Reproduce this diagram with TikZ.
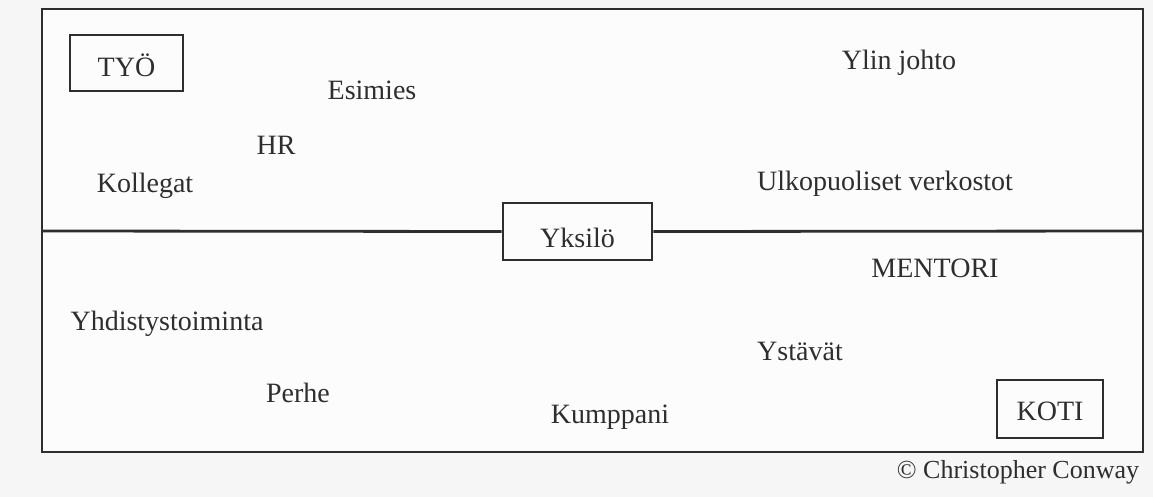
\documentclass[tikz,border=0pt]{standalone}
\usepackage{fontspec}
\setmainfont{Liberation Serif}
\definecolor{ink}{HTML}{2E2E2E}
\definecolor{paper}{HTML}{F6F6F6}
\begin{document}
\begin{tikzpicture}[x=1pt,y=-1pt,
  lbl/.style={anchor=base,text=ink,font=\fontsize{28}{32}\selectfont,inner sep=0pt},
  boxed/.style={draw=ink,line width=2.6pt,text=ink,font=\fontsize{28}{32}\selectfont,inner sep=0pt,text depth=0pt},
  frame/.style={draw=ink,line width=2.8pt}]
\useasboundingbox (0,0) rectangle (1153,497);
\fill[paper] (0,0) rectangle (1153,497);
\fill[white!70!paper] (42,9) rectangle (1143,452);
% outer frame
\draw[frame] (42,9) rectangle (1143,452);
\coordinate (L) at (42,231);
\coordinate (R) at (1143,231);
% central box
\node[boxed,minimum width=149pt,minimum height=57pt,text height=31pt] (yk) at (577.5,231.5) {Yksilö};
\draw[frame] (L) -- (yk.west);
\draw[frame] (yk.east) -- (R);
% corner boxes
\node[boxed,minimum width=113pt,minimum height=56pt,text height=28pt] (tyo) at (126.5,63) {TYÖ};
\node[boxed,minimum width=106pt,minimum height=58pt,text height=22pt] (koti) at (1050,409) {KOTI};
% labels
\node[lbl] (esimies) at (372,100) {Esimies};
\node[lbl] (hr) at (276,155) {HR};
\node[lbl] (kollegat) at (145,193) {Kollegat};
\node[lbl] (ylin) at (899,70) {Ylin johto};
\node[lbl] (ulko) at (885,190) {Ulkopuoliset verkostot};
\node[lbl] (mentori) at (935,277) {MENTORI};
\node[lbl] (yhd) at (167,330) {Yhdistystoiminta};
\node[lbl] (perhe) at (298,402) {Perhe};
\node[lbl] (ystavat) at (800,360) {Ystävät};
\node[lbl] (kumppani) at (610,423) {Kumppani};
\node[lbl,font=\fontsize{26}{30}\selectfont] (copy) at (1018,478) {© Christopher Conway};
\end{tikzpicture}
\end{document}
